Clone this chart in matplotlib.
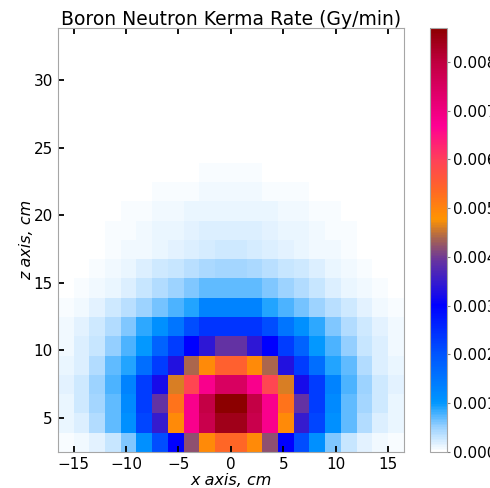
import numpy as np
import matplotlib
matplotlib.use('Agg')
import matplotlib.pyplot as plt
from matplotlib.colors import LinearSegmentedColormap

# cell edges in cm
x_edges = np.arange(-16.5, 16.6, 1.5)      # 22 columns
z_edges = np.linspace(2.5, 33.85, 23)      # 22 rows

# kerma rate (Gy/min), right half of each row (x = 0.75 ... 15.75 cm)
# the map is mirror symmetric about x = 0, left half is the same read backwards
row00 = [0.0054, 0.0049, 0.0042, 0.0030, 0.0021, 0.0011, 0.0006, 0.00028, 0.00015, 0.0001, 0.00005]
row01 = [0.0084, 0.0078, 0.0068, 0.0049, 0.0035, 0.0022, 0.0011, 0.0007, 0.0004, 0.0002, 0.00012]
row02 = [0.0087, 0.0079, 0.0068, 0.0052, 0.0039, 0.0023, 0.0012, 0.0007, 0.00045, 0.00024, 0.00013]
row03 = [0.0075, 0.0068, 0.0059, 0.0046, 0.0032, 0.0023, 0.0013, 0.00075, 0.0005, 0.00026, 0.00014]
row04 = [0.0055, 0.0049, 0.0044, 0.0033, 0.0023, 0.0016, 0.0009, 0.0007, 0.0004, 0.0002, 0.00012]
row05 = [0.0039, 0.0034, 0.0030, 0.0023, 0.0018, 0.0010, 0.00075, 0.00053, 0.0003, 0.00017, 0.0001]
row06 = [0.0024, 0.0024, 0.0021, 0.0015, 0.0011, 0.00085, 0.0006, 0.0004, 0.00026, 0.00014, 0.00007]
row07 = [0.0013, 0.0013, 0.0009, 0.00077, 0.00063, 0.0005, 0.00036, 0.00024, 0.00014, 0.00008, 0.00005]
row08 = [0.0007, 0.0007, 0.0006, 0.0005, 0.0004, 0.00029, 0.0002, 0.00012, 0.00007, 0.00005, 0.00002]
row09 = [0.00045, 0.00044, 0.00036, 0.00029, 0.00024, 0.0002, 0.00013, 0.00008, 0.00005, 0.00002, 0.00001]
row10 = [0.00024, 0.00023, 0.0002, 0.00016, 0.00012, 0.0001, 0.00007, 0.00005, 0.00003, 0.00002, 0.00001]
row11 = [0.00019, 0.00018, 0.00016, 0.00013, 0.00011, 0.00008, 0.00006, 0.00004, 0.00002, 0.00001, 0.00001]
row12 = [0.00012, 0.00012, 0.00011, 0.00009, 0.00007, 0.00005, 0.00004, 0.00002, 0.00001, 0.00001, 0.0]
row13 = [0.00007, 0.00007, 0.00006, 0.00005, 0.00004, 0.00003, 0.00002, 0.00001, 0.00001, 0.0, 0.0]
row14 = [0.00004, 0.00004, 0.00003, 0.00003, 0.00002, 0.00002, 0.00001, 0.00001, 0.0, 0.0, 0.0]
row15 = [0.00002, 0.00002, 0.00002, 0.00001, 0.00001, 0.00001, 0.00001, 0.0, 0.0, 0.0, 0.0]
row16 = [0.00001, 0.00001, 0.00001, 0.00001, 0.00001, 0.0, 0.0, 0.0, 0.0, 0.0, 0.0]
row17 = [0.000005, 0.000005, 0.000005, 0.0, 0.0, 0.0, 0.0, 0.0, 0.0, 0.0, 0.0]
row18 = [0.0] * 11
row19 = [0.0] * 11
row20 = [0.0] * 11
row21 = [0.0] * 11

rows = [row00, row01, row02, row03, row04, row05, row06, row07, row08, row09, row10,
        row11, row12, row13, row14, row15, row16, row17, row18, row19, row20, row21]
kerma = np.array([r[::-1] + r for r in rows])

vmax = 0.0087
cbar_ticks = [0.000, 0.001, 0.002, 0.003, 0.004, 0.005, 0.006, 0.007, 0.008]

# colormap: white -> light blue -> blue -> purple -> orange -> pink -> dark red
anchors = [
    (0.000, (1.00, 1.00, 1.00)),
    (0.057, (0.60, 0.82, 1.00)),
    (0.115, (0.00, 0.59, 1.00)),
    (0.230, (0.00, 0.33, 1.00)),
    (0.345, (0.00, 0.00, 1.00)),
    (0.450, (0.40, 0.20, 0.63)),
    (0.506, (0.67, 0.40, 0.30)),
    (0.550, (1.00, 0.58, 0.00)),
    (0.620, (1.00, 0.40, 0.15)),
    (0.690, (1.00, 0.25, 0.35)),
    (0.770, (1.00, 0.00, 0.58)),
    (0.920, (0.75, 0.00, 0.25)),
    (1.000, (0.55, 0.00, 0.00)),
]
cmap = LinearSegmentedColormap.from_list('kerma', anchors)

fig = plt.figure(figsize=(4.9, 4.88), dpi=100)
ax = fig.add_axes([0.118, 0.074, 0.706, 0.869])
cax = fig.add_axes([0.878, 0.074, 0.035, 0.869])

pcm = ax.pcolormesh(x_edges, z_edges, kerma, cmap=cmap, vmin=0, vmax=vmax, shading='flat')
ax.set_xlim(-16.5, 16.5)
ax.set_ylim(z_edges[0], z_edges[-1])
ax.set_xticks([-15, -10, -5, 0, 5, 10, 15])
ax.set_yticks([5, 10, 15, 20, 25, 30])
ax.tick_params(direction='in', top=True, length=4, width=1.3, labelsize=11)
for s in ax.spines.values():
    s.set_color('0.65')
ax.set_xlabel('x axis, cm', style='italic', fontsize=11.5, labelpad=1)
ax.set_ylabel('z axis, cm', style='italic', fontsize=11.5, labelpad=0)
ax.set_title('Boron Neutron Kerma Rate (Gy/min)', fontsize=13.5, pad=2)

cb = fig.colorbar(pcm, cax=cax, ticks=cbar_ticks, format='%.3f')
cb.outline.set_edgecolor('0.65')
cb.ax.tick_params(labelsize=11, length=2.5, pad=1.5, color='0.5')

fig.savefig('out.png', dpi=100)
